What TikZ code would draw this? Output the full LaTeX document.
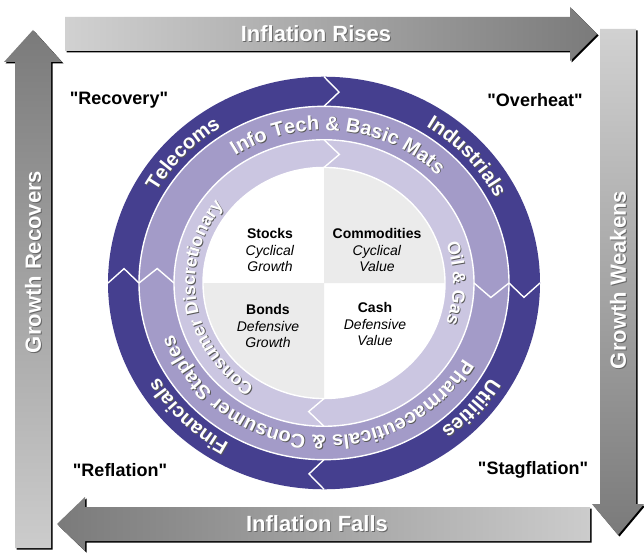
\documentclass[tikz,border=0pt]{standalone}
\usepackage{fontspec}
\setmainfont{Liberation Sans}
\newfontfamily\phasefont{Liberation Sans}
\usetikzlibrary{decorations.text}

\definecolor{ringdark}{HTML}{453F8F}
\definecolor{ringmid}{HTML}{A39BC8}
\definecolor{ringlight}{HTML}{CBC6E1}
\definecolor{quadgray}{HTML}{EBEBEB}

\newcommand{\ringfont}{\bfseries\fontsize{20}{24}\selectfont}
\newcommand{\innerfont}{\bfseries\fontsize{18}{22}\selectfont}

% text along a clockwise arc: radius, centre angle, half span, font, text
\newcommand{\ringlabel}[5]{%
  \path[decorate,decoration={text along path,text align=center,text={|#4\color{black!65}|#5}},shift={(0.9,-0.9)}]
    ({#2+#3}:#1) arc[start angle={#2+#3},end angle={#2-#3},radius=#1];
  \path[decorate,decoration={text along path,text align=center,text={|#4\color{white}|#5}}]
    ({#2+#3}:#1) arc[start angle={#2+#3},end angle={#2-#3},radius=#1];}

\begin{document}
\begin{tikzpicture}[x=1pt,y=1pt,
    sepline/.style={white,line width=1.4pt,line join=miter},
    dropshadow/.style={fill=black,shift={(1.5,-1.5)}},
    arrowlabel/.style={font=\bfseries\fontsize{22}{26}\selectfont,text=white},
    arrowshade/.style={font=\bfseries\fontsize{22}{26}\selectfont,text=black!60},
    quadlabel/.style={align=center,font=\fontsize{14}{16.5}\selectfont},
    phase/.style={font=\phasefont\bfseries\fontsize{18}{22}\selectfont}]

    % white background with the size of the picture
    \fill[white] (0,0) rectangle (644,552);
    \useasboundingbox (0,0) rectangle (644,552);

    % inflation rises (top)
    \fill[dropshadow] (65,535) -- (570,535) -- (570,545) -- (597,518) -- (570,491) -- (570,501) -- (65,501) -- cycle;
    \shade[left color=black!18,right color=black!52] (65,535) -- (570,535) -- (570,545) -- (597,518) -- (570,491) -- (570,501) -- (65,501) -- cycle;

    % growth weakens (right)
    \fill[dropshadow] (600,523) -- (636,523) -- (636,48) -- (644,48) -- (618,17) -- (592,48) -- (600,48) -- cycle;
    \shade[top color=black!18,bottom color=black!52] (600,523) -- (636,523) -- (636,48) -- (644,48) -- (618,17) -- (592,48) -- (600,48) -- cycle;

    % inflation falls (bottom)
    \fill[dropshadow] (590,45) -- (85,45) -- (85,55) -- (57,28) -- (85,1) -- (85,11) -- (590,11) -- cycle;
    \shade[left color=black!52,right color=black!20] (590,45) -- (85,45) -- (85,55) -- (57,28) -- (85,1) -- (85,11) -- (590,11) -- cycle;

    % growth recovers (left)
    \fill[dropshadow] (15,4) -- (15,490) -- (4,490) -- (33,522) -- (62,490) -- (51,490) -- (51,4) -- cycle;
    \shade[top color=black!52,bottom color=black!20] (15,4) -- (15,490) -- (4,490) -- (33,522) -- (62,490) -- (51,490) -- (51,4) -- cycle;

    % arrow labels
    \node[arrowshade] (risesbg) at (317,517) {Inflation Rises};
    \node[arrowlabel] (rises) at (316,518) {Inflation Rises};
    \node[arrowshade] (fallsbg) at (318,27) {Inflation Falls};
    \node[arrowlabel] (falls) at (317,28) {Inflation Falls};
    \node[arrowshade,rotate=90] (recoversbg) at (34,289) {Growth Recovers};
    \node[arrowlabel,rotate=90] (recovers) at (33,290) {Growth Recovers};
    \node[arrowshade,rotate=90] (weakensbg) at (619,271) {Growth Weakens};
    \node[arrowlabel,rotate=90] (weakens) at (618,272) {Growth Weakens};

    % the clock
    \begin{scope}[shift={(324,269)},y=0.955pt]
        % rings
        \fill[ringdark] (0,0) circle[radius=216];
        \fill[ringmid] (0,0) circle[radius=185];
        \fill[ringlight] (0,0) circle[radius=150];
        \fill[white] (0,0) circle[radius=121];

        % quadrants
        \fill[quadgray] (0,0) -- (0:121) arc[start angle=0,end angle=90,radius=121] -- cycle;
        \fill[quadgray] (0,0) -- (180:121) arc[start angle=180,end angle=270,radius=121] -- cycle;

        % white rims
        \foreach \r in {121,150,185}
            \draw[sepline] (0,0) circle[radius=\r];

        % chevrons between sectors
        \foreach \ri/\ro/\d/\angles in {185/216/4.3/{0,90,180,270},150/185/5.2/{0,180},121/150/6.5/{90,270}}
            \foreach \a in \angles
                \draw[sepline] (\a:\ri) -- ({\a-\d}:{(\ri+\ro)/2}) -- (\a:\ro);

        % sector names
        \ringlabel{193}{137}{50}{\ringfont}{Telecoms}
        \ringlabel{193}{42}{50}{\ringfont}{Industrials}
        \ringlabel{193}{-41}{50}{\ringfont}{Utilities}
        \ringlabel{193}{225}{50}{\ringfont}{Financials}
        \ringlabel{160}{84}{80}{\ringfont}{Info Tech {\&} Basic Mats}
        \ringlabel{160}{-95}{90}{\ringfont}{Pharmaceuticals {\&} Consumer Staples}
        \ringlabel{129}{189}{80}{\innerfont}{Consumer Discretionary}
        \ringlabel{129}{0}{50}{\innerfont}{Oil {\&} Gas}
    \end{scope}

    % asset classes
    \node[quadlabel] (stocks) at (270,302) {\textbf{Stocks}\\\textit{Cyclical}\\\textit{Growth}};
    \node[quadlabel] (commodities) at (377,302) {\textbf{Commodities}\\\textit{Cyclical}\\\textit{Value}};
    \node[quadlabel] (bonds) at (268,226) {\textbf{Bonds}\\\textit{Defensive}\\\textit{Growth}};
    \node[quadlabel] (cash) at (375,228) {\textbf{Cash}\\\textit{Defensive}\\\textit{Value}};

    % phases
    \node[phase] (recovery) at (119,452) {"Recovery"};
    \node[phase] (overheat) at (535,452) {"Overheat"};
    \node[phase] (reflation) at (120,82) {"Reflation"};
    \node[phase] (stagflation) at (533,82) {"Stagflation"};
\end{tikzpicture}
\end{document}
